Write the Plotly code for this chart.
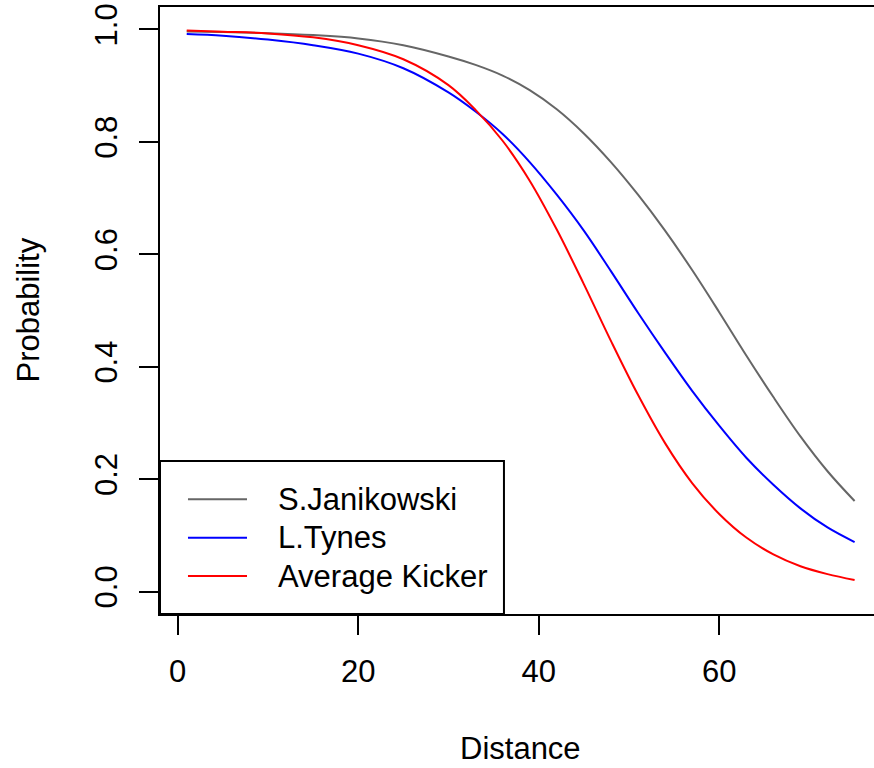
import plotly.graph_objects as go

distance = [1, 5, 10, 15, 20, 25, 30, 33, 36, 39, 42, 45, 48, 51, 54, 57, 60, 63, 66, 69, 72, 75]

janikowski = [0.9965, 0.9955, 0.9935, 0.990, 0.984, 0.972, 0.952, 0.937, 0.918, 0.892, 0.858, 0.815,
              0.764, 0.706, 0.642, 0.572, 0.497, 0.420, 0.346, 0.276, 0.214, 0.161]
tynes = [0.992, 0.989, 0.982, 0.972, 0.957, 0.931, 0.888, 0.854, 0.814, 0.764, 0.706, 0.642,
         0.570, 0.496, 0.425, 0.357, 0.295, 0.238, 0.190, 0.148, 0.114, 0.088]
average = [0.998, 0.996, 0.993, 0.986, 0.972, 0.947, 0.901, 0.857, 0.802, 0.731, 0.644, 0.547,
           0.446, 0.350, 0.264, 0.193, 0.138, 0.096, 0.066, 0.045, 0.031, 0.0205]

series_names = ["S.Janikowski", "L.Tynes", "Average Kicker"]
series_values = [janikowski, tynes, average]
series_colors = ["#666666", "#0000FF", "#FF0000"]

x_ticks = [0, 20, 40, 60]
y_ticks = [0.0, 0.2, 0.4, 0.6, 0.8, 1.0]
y_tick_labels = ["0.0", "0.2", "0.4", "0.6", "0.8", "1.0"]

FONT = "Liberation Sans, Arial, Helvetica, sans-serif"
FS = 31

fig = go.Figure()
for name, vals, col in zip(series_names, series_values, series_colors):
    fig.add_trace(go.Scatter(x=distance, y=vals, mode="lines", name=name,
                             line=dict(color=col, width=2, shape="spline", smoothing=1.0),
                             showlegend=False))

x0, x1 = -1.96, 77.15
y0, y1 = -0.04, 1.04

# legend (bottom-left box)
leg_right = 36.15
leg_top = 0.2324
fig.add_shape(type="rect", xref="x", yref="y", x0=x0, x1=leg_right, y0=y0, y1=leg_top,
              line=dict(color="black", width=2), fillcolor="white", layer="above")
leg_y = [0.164, 0.0958, 0.0276]
for name, col, yy in zip(series_names, series_colors, leg_y):
    fig.add_shape(type="line", xref="x", yref="y", x0=1.14, x1=7.68, y0=yy, y1=yy,
                  line=dict(color=col, width=2), layer="above")
    fig.add_annotation(x=10.9, y=yy, xref="x", yref="y", text=name, showarrow=False,
                       xanchor="left", yanchor="middle",
                       font=dict(family=FONT, size=FS, color="black"))

fig.add_annotation(text="Distance", xref="paper", yref="paper", x=(520 - 160) / 714,
                   y=-(748 - 614) / 607, xanchor="center", yanchor="middle", showarrow=False,
                   font=dict(family=FONT, size=FS, color="black"))
fig.add_annotation(text="Probability", xref="paper", yref="paper", x=-(160 - 28) / 714,
                   y=0.5, xanchor="center", yanchor="middle", showarrow=False, textangle=-90,
                   font=dict(family=FONT, size=FS, color="black"))

fig.update_layout(
    width=874, height=768,
    margin=dict(l=160, r=0, t=7, b=154, pad=0),
    paper_bgcolor="white", plot_bgcolor="white",
    font=dict(family=FONT, size=FS, color="black"),
    xaxis=dict(range=[x0, x1], tickvals=x_ticks, ticks="outside", ticklen=19, tickwidth=2,
               tickcolor="black", showline=True, linecolor="black", linewidth=2, mirror=True,
               showgrid=False, zeroline=False, tickfont=dict(family=FONT, size=FS),
               ticklabelstandoff=10),
    yaxis=dict(range=[y0, y1], tickvals=y_ticks, ticktext=y_tick_labels, ticks="outside",
               ticklen=19, tickwidth=2, tickcolor="black", showline=True, linecolor="black",
               linewidth=2, mirror=False, showgrid=False, zeroline=False, tickangle=-90,
               tickfont=dict(family=FONT, size=FS), ticklabelstandoff=10),
)

fig.write_html("out.html")
